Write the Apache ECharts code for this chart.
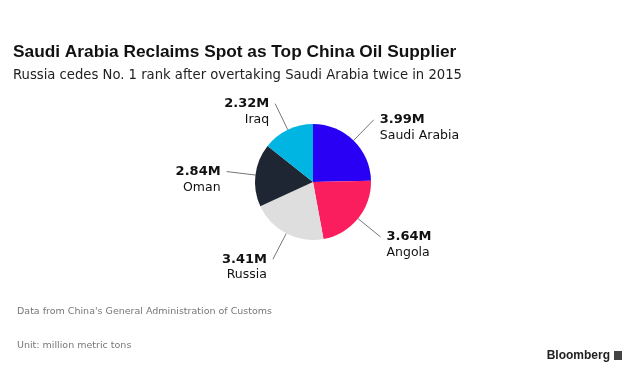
<!DOCTYPE html>
<html><head><meta charset="utf-8">
<script src="https://cdn.jsdelivr.net/npm/echarts@6/dist/echarts.min.js"></script>
<style>html,body{margin:0;padding:0;background:#fff}#c{width:629px;height:372px}</style>
</head><body><div id="c"></div>
<script>
const categories = ['Saudi Arabia', 'Angola', 'Russia', 'Oman', 'Iraq'];
const values = [3.99, 3.64, 3.41, 2.84, 2.32];
const colors = ['#2a00f5', '#fb1e5e', '#dedede', '#1f2633', '#00b5e2'];

const chart = echarts.init(document.getElementById('c'), null, {renderer: 'canvas'});
chart.setOption({
  animation: false,
  backgroundColor: '#fff',
  title: {
    text: 'Saudi Arabia Reclaims Spot as Top China Oil Supplier',
    subtext: 'Russia cedes No. 1 rank after overtaking Saudi Arabia twice in 2015',
    left: 8, top: 39, itemGap: 8,
    textStyle: {fontFamily: 'Liberation Sans', fontWeight: 'bold', fontSize: 17.3, color: '#111'},
    subtextStyle: {fontFamily: 'DejaVu Sans', fontSize: 13.2, color: '#222'}
  },
  series: [{
    type: 'pie',
    center: [313, 182],
    radius: [0, 58],
    startAngle: 90,
    clockwise: true,
    data: categories.map((n, i) => ({name: n, value: values[i], itemStyle: {color: colors[i]}})),
    label: {
      formatter: p => '{v|' + p.value.toFixed(2) + 'M}\n{n|' + p.name + '}',
      padding: [16, 0, 0, 0],
      rich: {
        v: {fontFamily: 'DejaVu Sans', fontWeight: 'bold', fontSize: 13, color: '#111', lineHeight: 16},
        n: {fontFamily: 'DejaVu Sans', fontSize: 12.5, color: '#111', lineHeight: 16}
      },
      distanceToLabelLine: 6
    },
    labelLine: {length: 29, length2: 0, lineStyle: {color: '#777', width: 1}},
    itemStyle: {borderWidth: 0}
  }],
  graphic: [
    {type: 'text', x: 17, y: 312, style: {text: "Data from China's General Administration of Customs", font: '9.5px "DejaVu Sans"', fill: '#777', textVerticalAlign: 'middle'}},
    {type: 'text', x: 17, y: 346, style: {text: 'Unit: million metric tons', font: '9.5px "DejaVu Sans"', fill: '#777', textVerticalAlign: 'middle'}},
    {type: 'text', x: 610, y: 356, style: {text: 'Bloomberg', font: 'bold 12px "Liberation Sans"', fill: '#222', textAlign: 'right', textVerticalAlign: 'middle'}},
    {type: 'rect', shape: {x: 614, y: 351, width: 8, height: 9}, style: {fill: '#444'}}
  ]
});
</script></body></html>
